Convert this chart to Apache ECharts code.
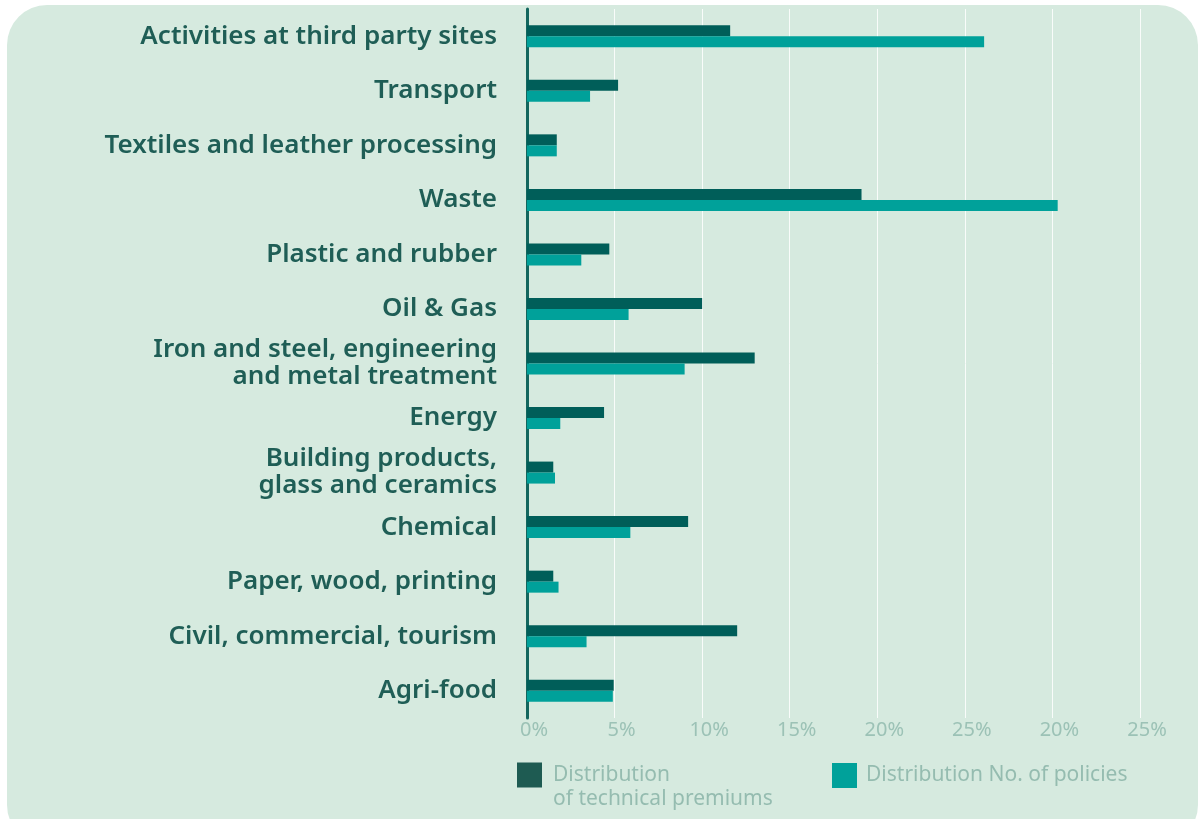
<!DOCTYPE html>
<html>
<head>
<meta charset="utf-8">
<script src="https://cdn.jsdelivr.net/npm/echarts@6/dist/echarts.min.js"></script>
<style>
  html, body { margin: 0; padding: 0; background: #ffffff; overflow: hidden; }
  #panel { position: absolute; left: 7px; top: 5px; width: 1191px; height: 840px; background: #d6eadf; border-radius: 40px; }
  #chart { position: absolute; left: 0; top: 0; width: 1203px; height: 819px; }
</style>
</head>
<body>
<div id="panel"></div>
<div id="chart"></div>
<script>
const categories = [
  "Activities at third party sites",
  "Transport",
  "Textiles and leather processing",
  "Waste",
  "Plastic and rubber",
  "Oil & Gas",
  "Iron and steel, engineering\nand metal treatment",
  "Energy",
  "Building products,\nglass and ceramics",
  "Chemical",
  "Paper, wood, printing",
  "Civil, commercial, tourism",
  "Agri-food"
];
const premiums = [11.6, 5.2, 1.7, 19.1, 4.7, 10.0, 13.0, 4.4, 1.5, 9.2, 1.5, 12.0, 4.95];
const policies = [26.1, 3.6, 1.7, 30.3, 3.1, 5.8, 9.0, 1.9, 1.6, 5.9, 1.8, 3.4, 4.9];
const tickLabels = ["0%", "5%", "10%", "15%", "20%", "25%", "20%", "25%"];

const nameA = "Distribution\nof technical premiums";
const nameB = "Distribution No. of policies";
const darkColor = "#005e59";
const tealColor = "#00a19a";
const font = "Noto Sans";

const chart = echarts.init(document.getElementById("chart"));
chart.setOption({
  backgroundColor: "transparent",
  animation: false,
  textStyle: { fontFamily: font },
  grid: { left: 527, right: 63, top: 9, bottom: 101, containLabel: false },
  xAxis: {
    type: "value",
    min: 0,
    max: 35,
    interval: 5,
    axisLine: { show: false },
    axisTick: { show: false },
    splitLine: { show: true, lineStyle: { color: "rgba(255,255,255,0.85)", width: 1 } },
    axisLabel: {
      color: "#9cc2b6",
      fontSize: 20,
      fontFamily: font,
      margin: 2,
      padding: [0, 0, 0, 14],
      formatter: (v) => tickLabels[Math.round(v / 5)] ?? ""
    }
  },
  yAxis: {
    type: "category",
    inverse: true,
    data: categories,
    axisLine: { show: true, lineStyle: { color: "#13665e", width: 3 } },
    axisTick: { show: false },
    axisLabel: {
      color: "#1f5e56",
      fontSize: 26,
      fontWeight: 600,
      fontFamily: font,
      margin: 30,
      lineHeight: 27,
      padding: [3, 0, 0, 0],
      align: "right"
    }
  },
  legend: [
    {
      data: [{ name: nameA, itemStyle: { color: "#1e5b52" } }],
      left: 517,
      top: 739,
      padding: 0,
      itemWidth: 25,
      itemHeight: 25,
      icon: "rect",
      selectedMode: false,
      formatter: (n) => "\n" + n,
      textStyle: { color: "#95bcb0", fontSize: 21, lineHeight: 24, padding: [0, 0, 0, 6] }
    },
    {
      data: [{ name: nameB, itemStyle: { color: tealColor } }],
      left: 832,
      top: 763,
      padding: 0,
      itemWidth: 25,
      itemHeight: 25,
      icon: "rect",
      selectedMode: false,
      textStyle: { color: "#95bcb0", fontSize: 21, padding: [0, 0, 0, 4] }
    }
  ],
  series: [
    {
      name: nameA,
      type: "bar",
      data: premiums,
      barWidth: 11,
      barGap: "0%",
      itemStyle: { color: darkColor }
    },
    {
      name: nameB,
      type: "bar",
      data: policies,
      barWidth: 11,
      barGap: "0%",
      itemStyle: { color: tealColor }
    }
  ]
});
</script>
</body>
</html>
